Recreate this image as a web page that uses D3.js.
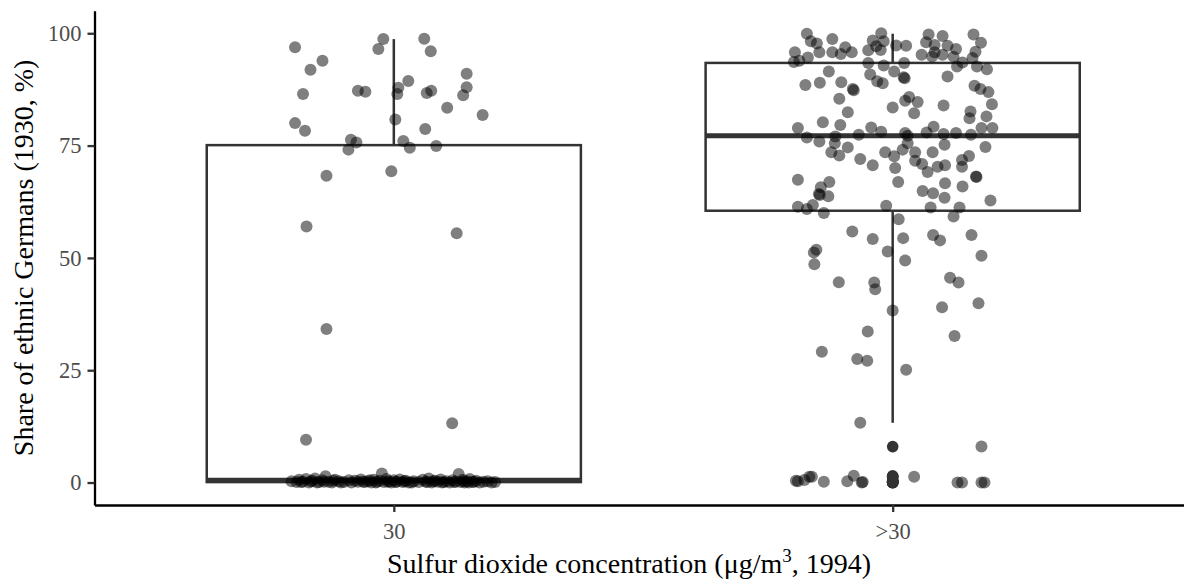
<!DOCTYPE html>
<html>
<head>
<meta charset="utf-8">
<script src="https://cdn.jsdelivr.net/npm/d3@7"></script>
<style>
  body { margin: 0; background: #fff; }
  text { font-family: "Liberation Serif", "Times New Roman", serif; }
</style>
</head>
<body>
<div id="canvas"></div>
<script>
// categories on the x axis
let categories = ["30", ">30"]

// box statistics (lower whisker, q1, median, q3, upper whisker)
let boxLower  = [0, 13.3]
let boxQ1     = [0.1, 60.5]
let boxMedian = [0.5, 77.2]
let boxQ3     = [75.1, 93.4]
let boxUpper  = [98.7, 99.9]

// jittered points: [offset in category units, share %]
let pointsLow = [
  [-0.198,96.9],[-0.021,98.7],[-0.031,96.5],[0.061,98.8],[0.074,96.0],[-0.143,93.9],[-0.167,91.9],
  [0.146,91.0],[0.029,89.4],[-0.182,86.5],[-0.072,87.2],[-0.057,87.0],[0.009,87.9],[0.007,86.5],
  [0.066,86.7],[0.075,87.2],[0.146,88.0],[0.139,86.2],[0.107,83.4],[0.178,81.8],[0.003,80.8],
  [-0.198,80.0],[-0.178,78.3],[0.063,78.7],[-0.086,76.3],[-0.075,75.7],[-0.091,74.1],[0.019,76.0],
  [0.032,74.5],[0.085,74.9],[-0.135,68.3],[-0.005,69.3],[-0.175,57.0],[0.126,55.5],[-0.135,34.2],
  [-0.176,9.5],[0.117,13.2],
  [-0.205,0.3],[-0.195,0.1],[-0.19,0.6],[-0.182,0.2],[-0.176,0.8],[-0.17,0.0],[-0.163,0.4],
  [-0.158,0.9],[-0.15,0.1],[-0.143,0.5],[-0.137,1.4],[-0.131,0.2],[-0.124,0.0],[-0.118,0.6],
  [-0.11,0.3],[-0.1,0.1],[-0.09,0.5],[-0.085,0.0],[-0.078,0.4],[-0.072,0.2],[-0.066,0.7],
  [-0.058,0.1],[-0.052,0.3],[-0.045,0.0],[-0.04,0.6],[-0.034,0.2],[-0.028,0.4],[-0.024,2.0],
  [-0.02,0.1],[-0.015,0.8],[-0.01,0.3],[-0.005,0.0],[0.0,0.5],[0.006,0.2],[0.012,0.7],[0.018,0.1],
  [0.024,0.4],[0.03,0.0],[0.04,0.3],[0.05,0.1],[0.058,0.6],[0.064,0.2],[0.07,0.9],[0.076,0.0],
  [0.082,0.4],[0.088,0.2],[0.094,0.7],[0.1,0.1],[0.106,0.3],[0.112,0.0],[0.118,0.5],[0.124,0.2],
  [0.13,1.9],[0.134,0.1],[0.138,0.6],[0.142,0.0],[0.147,0.3],[0.152,0.8],[0.158,0.1],[0.165,0.4],
  [0.172,0.0],[0.18,0.2],[0.188,0.3],[0.196,0.0],[0.203,0.1],
  [-0.186,0.1],[-0.166,0.3],[-0.154,0.0],[-0.14,0.2],[-0.121,0.4],[-0.106,0.0],[-0.062,0.2],
  [-0.048,0.5],[-0.036,0.0],[-0.012,0.2],[0.003,0.1],[0.021,0.3],[0.036,0.0],[0.067,0.1],
  [0.079,0.3],[0.097,0.0],[0.121,0.1],[0.14,0.3],[0.15,0.0],[0.161,0.2]
]

let pointsHigh = [
  [-0.172,99.9],[-0.164,98.2],[-0.152,97.7],[-0.121,98.7],[-0.196,95.8],[-0.198,93.6],[-0.187,93.9],
  [-0.170,94.6],[-0.147,95.8],[-0.121,95.8],[-0.104,95.4],[-0.095,96.9],[-0.082,95.8],[-0.023,100],
  [-0.040,98.4],[-0.033,97.1],[-0.049,96.2],[-0.024,96.3],[-0.018,98.2],[0.007,97.3],[0.027,97.2],
  [0.072,99.7],[0.100,99.4],[0.067,98.0],[0.084,97.4],[0.110,97.2],[0.127,96.5],[0.084,95.8],
  [0.058,95.2],[0.079,94.8],[0.100,95.2],[0.122,94.8],[0.162,99.7],[0.177,97.9],[0.166,95.9],
  [0.160,94.5],[0.140,93.5],[0.129,92.6],[0.169,92.6],[0.189,92.0],[-0.049,93.4],[-0.018,92.8],
  [0.023,93.4],[-0.128,91.5],[-0.045,90.8],[-0.031,89.3],[-0.020,88.9],[0.003,91.5],[0.022,90.2],
  [0.024,90.0],[0.110,90.4],[-0.175,88.5],[-0.146,89.0],[-0.103,89.1],[-0.080,87.6],[-0.078,87.3],
  [0.164,88.3],[0.176,87.6],[0.192,86.9],[-0.107,85.4],[0.033,85.8],[0.025,85.0],[0.050,84.7],
  [0.199,84.2],[0.000,83.5],[0.102,83.9],[-0.090,82.4],[0.043,82.2],[0.156,82.6],[0.154,81.1],
  [0.188,81.5],[-0.140,80.2],[-0.105,79.6],[-0.190,78.9],[-0.043,79.0],[-0.023,78.1],[0.082,79.2],
  [0.178,78.9],[0.200,78.9],[-0.068,77.4],[0.025,77.8],[0.030,77.2],[0.068,77.9],[0.102,77.6],
  [0.127,77.8],[0.157,77.4],[-0.172,76.8],[-0.115,77.0],[-0.147,75.9],[-0.116,75.5],[0.030,75.5],
  [0.104,75.2],[-0.090,74.6],[0.186,74.7],[0.020,74.1],[-0.123,73.5],[-0.107,72.8],[-0.015,73.5],
  [0.003,72.6],[0.045,73.5],[0.080,73.5],[-0.065,72.0],[0.045,71.6],[0.059,70.9],[0.139,71.8],
  [0.153,72.7],[-0.040,70.6],[0.005,70.0],[0.090,70.3],[0.105,70.6],[0.139,70.3],[0.070,69.1],
  [0.167,68.1],[0.168,68.0],[-0.190,67.4],[-0.127,66.9],[0.011,66.9],[0.105,66.6],[-0.144,65.7],
  [-0.148,64.2],[-0.146,64.0],[-0.129,63.7],[0.140,65.9],[0.060,64.9],[0.081,64.4],[0.104,63.4],
  [0.196,62.8],[-0.190,61.4],[-0.172,60.9],[-0.160,61.8],[-0.138,60.0],[-0.013,61.6],[0.076,61.2],
  [0.134,61.2],[0.012,58.6],[0.122,59.2],
  [-0.081,55.9],[-0.040,54.2],[0.021,54.4],[0.081,55.1],[0.095,53.9],[0.158,55.1],[-0.158,51.2],
  [-0.153,51.8],[-0.157,48.6],[-0.010,51.4],[0.025,49.4],[0.178,50.5],[-0.108,44.6],[-0.037,44.5],
  [-0.035,43.0],[0.115,45.6],[0.132,44.5],[0.000,38.3],[0.099,39.0],[0.172,39.9],[-0.050,33.6],
  [0.124,32.6],[-0.142,29.1],[-0.071,27.5],[-0.051,27.1],[0.027,25.1],[-0.065,13.3],[0.178,8.0],
  [-0.194,0.4],[-0.190,0.3],[-0.177,0.55],[-0.167,1.3],[-0.162,1.3],[-0.138,0.2],[-0.091,0.3],
  [-0.078,1.5],[-0.062,0.0],[-0.060,0.1],[0.043,1.3],[0.130,0.0],[0.139,0.0],[0.178,0.0],[0.184,0.0]
]

let groups = [pointsLow, pointsHigh]

let width = 1184
let height = 582
let margin = { left: 94.5, right: 1192, top: 10.8, bottom: 505 }

let svg = d3.select("#canvas").append("svg")
    .attr("width", width)
    .attr("height", height)

let x = d3.scalePoint()
    .domain(categories)
    .range([margin.left, margin.right])
    .padding(0.6)
let step = x.step()

let y = d3.scaleLinear()
    .domain([-5, 105])
    .range([margin.bottom, margin.top])

let boxes = categories.map((c, i) => ({
    cat: c, lo: boxLower[i], q1: boxQ1[i], med: boxMedian[i], q3: boxQ3[i], hi: boxUpper[i]
}))

// boxplots
let bg = svg.append("g").attr("class", "boxes")
boxes.forEach(function(b, i) {
    let cx = x(b.cat)
    let hw = step * 0.375
    let col = "#333333"
    bg.append("line")
        .attr("x1", cx).attr("x2", cx)
        .attr("y1", y(b.q3)).attr("y2", y(b.hi))
        .attr("stroke", col).attr("stroke-width", 2.5)
    bg.append("line")
        .attr("x1", cx).attr("x2", cx)
        .attr("y1", y(b.q1)).attr("y2", y(b.lo))
        .attr("stroke", col).attr("stroke-width", 2.5)
    bg.append("rect")
        .attr("x", cx - hw).attr("width", hw * 2)
        .attr("y", y(b.q3)).attr("height", y(b.q1) - y(b.q3))
        .attr("fill", "white")
        .attr("stroke", col).attr("stroke-width", 2.5)
    bg.append("line")
        .attr("x1", cx - hw).attr("x2", cx + hw)
        .attr("y1", y(b.med)).attr("y2", y(b.med))
        .attr("stroke", col).attr("stroke-width", 5)

    // outliers drawn at the centre, as ggplot does
    let iqr = b.q3 - b.q1
    let outs = groups[i].filter(p => p[1] < b.q1 - 1.5 * iqr || p[1] > b.q3 + 1.5 * iqr)
    bg.selectAll(null)
        .data(outs)
        .enter().append("circle")
        .attr("cx", cx)
        .attr("cy", d => y(d[1]))
        .attr("r", 5.8)
        .attr("fill", col)
})

// jittered points
let pg = svg.append("g").attr("class", "points")
groups.forEach(function(pts, i) {
    pg.selectAll(null)
        .data(pts)
        .enter().append("circle")
        .attr("cx", d => x(categories[i]) + d[0] * step)
        .attr("cy", d => y(d[1]))
        .attr("r", 6)
        .attr("fill", "black")
        .attr("fill-opacity", 0.5)
})

// axes
let yAxis = svg.append("g")
    .attr("transform", "translate(" + margin.left + ",0)")
    .call(d3.axisLeft(y).tickValues([0, 25, 50, 75, 100]).tickSize(7).tickPadding(6).tickSizeOuter(0))
let xAxis = svg.append("g")
    .attr("transform", "translate(0," + margin.bottom + ")")
    .call(d3.axisBottom(x).tickSize(7).tickPadding(6).tickSizeOuter(0))

svg.selectAll(".domain").attr("stroke", "black").attr("stroke-width", 2.3)
svg.selectAll(".tick line").attr("stroke", "#333333").attr("stroke-width", 2.3)
svg.selectAll(".tick text")
    .attr("fill", "#4d4d4d")
    .attr("font-size", 22.5)
    .style("font-family", "Liberation Serif")
xAxis.selectAll(".tick text").attr("dy", "0.95em")

// axis titles
svg.append("text")
    .attr("transform", "translate(33," + ((margin.top + margin.bottom) / 2) + ") rotate(-90)")
    .attr("text-anchor", "middle")
    .attr("font-size", 28)
    .attr("fill", "black")
    .text("Share of ethnic Germans (1930, %)")

let xt = svg.append("text")
    .attr("x", 629)
    .attr("y", 573)
    .attr("text-anchor", "middle")
    .attr("font-size", 28)
    .attr("fill", "black")
xt.append("tspan").text("Sulfur dioxide concentration (μg/m")
xt.append("tspan").attr("dy", -11).attr("font-size", 19).text("3")
xt.append("tspan").attr("dy", 11).text(", 1994)")
</script>
</body>
</html>
